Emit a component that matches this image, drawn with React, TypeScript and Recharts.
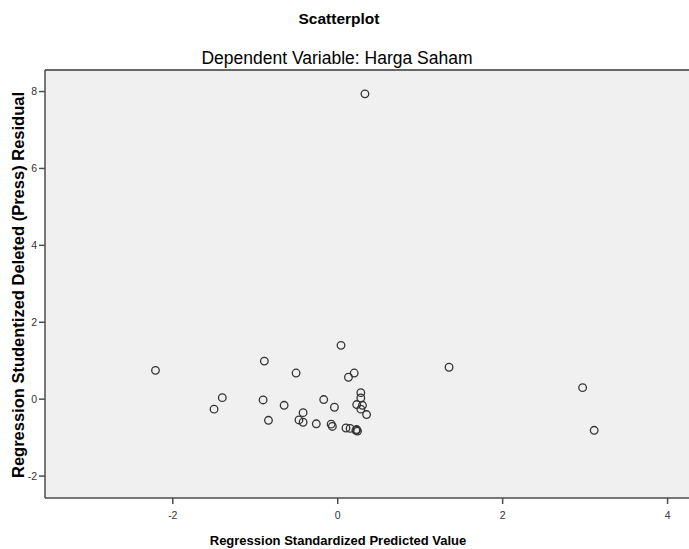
import { CartesianGrid, ReferenceLine, Scatter, ScatterChart, XAxis, YAxis } from "recharts";

// predicted values (x) and studentized deleted residuals (y)
const predicted = [
    -2.21, -0.89, 0.04, -0.505, 0.2, 0.13, -1.4, -1.5, -0.905, -0.65, -0.17, -0.04,
    -0.42, -0.84, -0.47, -0.42, -0.26, -0.08, -0.065, 0.1, 0.15, 0.22, 0.24, 0.23,
    0.28, 0.28, 0.23, 0.3, 0.28, 0.35, 0.33, 1.35, 2.97, 3.11,
];
const residuals = [
    0.75, 0.99, 1.4, 0.68, 0.68, 0.57, 0.04, -0.26, -0.02, -0.16, -0.01, -0.21,
    -0.35, -0.55, -0.54, -0.6, -0.64, -0.65, -0.71, -0.75, -0.76, -0.81, -0.83, -0.79,
    0.17, 0.03, -0.14, -0.16, -0.26, -0.4, 7.94, 0.83, 0.3, -0.81,
];

const xTicks = [-2, 0, 2, 4];
const yTicks = [-2, 0, 2, 4, 6, 8];
const X_DOMAIN: [number, number] = [-3.55, 4.26];
const Y_DOMAIN: [number, number] = [-2.57, 8.56];

const points = predicted.map((x, i) => ({ x, y: residuals[i] }));

const AXIS = "#4d4d4d";
const tickFont = { fontFamily: "'Liberation Sans Narrow', 'Liberation Sans', Arial", fontSize: 10.5, fill: "#333" };

const Ring = (props: any) => (
    <circle cx={props.cx} cy={props.cy} r={3.8} fill="none" stroke="#333" strokeWidth={1.3} />
);

const App = () => {
    return (
        <div style={{ position: "absolute", left: 0, top: 0, width: 689, height: 549, background: "#fff", fontFamily: "'Liberation Sans', Arial" }}>
            <div style={{ position: "absolute", top: 10, left: 0, width: 678, textAlign: "center", fontSize: 15.5, fontWeight: "bold" }}>
                Scatterplot
            </div>
            <div style={{ position: "absolute", top: 48, left: 0, width: 674, textAlign: "center", fontSize: 17.5, lineHeight: "20px" }}>
                Dependent Variable: Harga Saham
            </div>
            <ScatterChart width={689} height={549} margin={{ top: 70, right: 0, bottom: 0, left: 0 }}>
                <CartesianGrid fill="#f0f0f0" stroke="none" horizontal={false} vertical={false} />
                <XAxis
                    type="number"
                    dataKey="x"
                    domain={X_DOMAIN}
                    ticks={xTicks}
                    allowDataOverflow
                    height={51}
                    tickSize={6}
                    tickMargin={8}
                    stroke={AXIS}
                    strokeWidth={1.5}
                    tick={tickFont}
                />
                <YAxis
                    type="number"
                    dataKey="y"
                    domain={Y_DOMAIN}
                    ticks={yTicks}
                    allowDataOverflow
                    width={45}
                    tickSize={6}
                    tickMargin={2}
                    stroke={AXIS}
                    strokeWidth={1.5}
                    tick={tickFont}
                />
                <ReferenceLine y={Y_DOMAIN[1]} stroke="#666" strokeWidth={2} />
                <Scatter data={points} shape={Ring} isAnimationActive={false} />
            </ScatterChart>
            <div style={{ position: "absolute", top: 533, left: 0, width: 676, textAlign: "center", fontSize: 13, fontWeight: "bold", lineHeight: "16px", whiteSpace: "nowrap" }}>
                Regression Standardized Predicted Value
            </div>
            <div
                style={{
                    position: "absolute",
                    left: 18,
                    top: 285,
                    transform: "translate(-50%, -50%) rotate(-90deg)",
                    fontSize: 16.5,
                    fontWeight: "bold",
                    lineHeight: "18px",
                    whiteSpace: "nowrap",
                }}
            >
                Regression Studentized Deleted (Press) Residual
            </div>
        </div>
    );
};

export default App;
